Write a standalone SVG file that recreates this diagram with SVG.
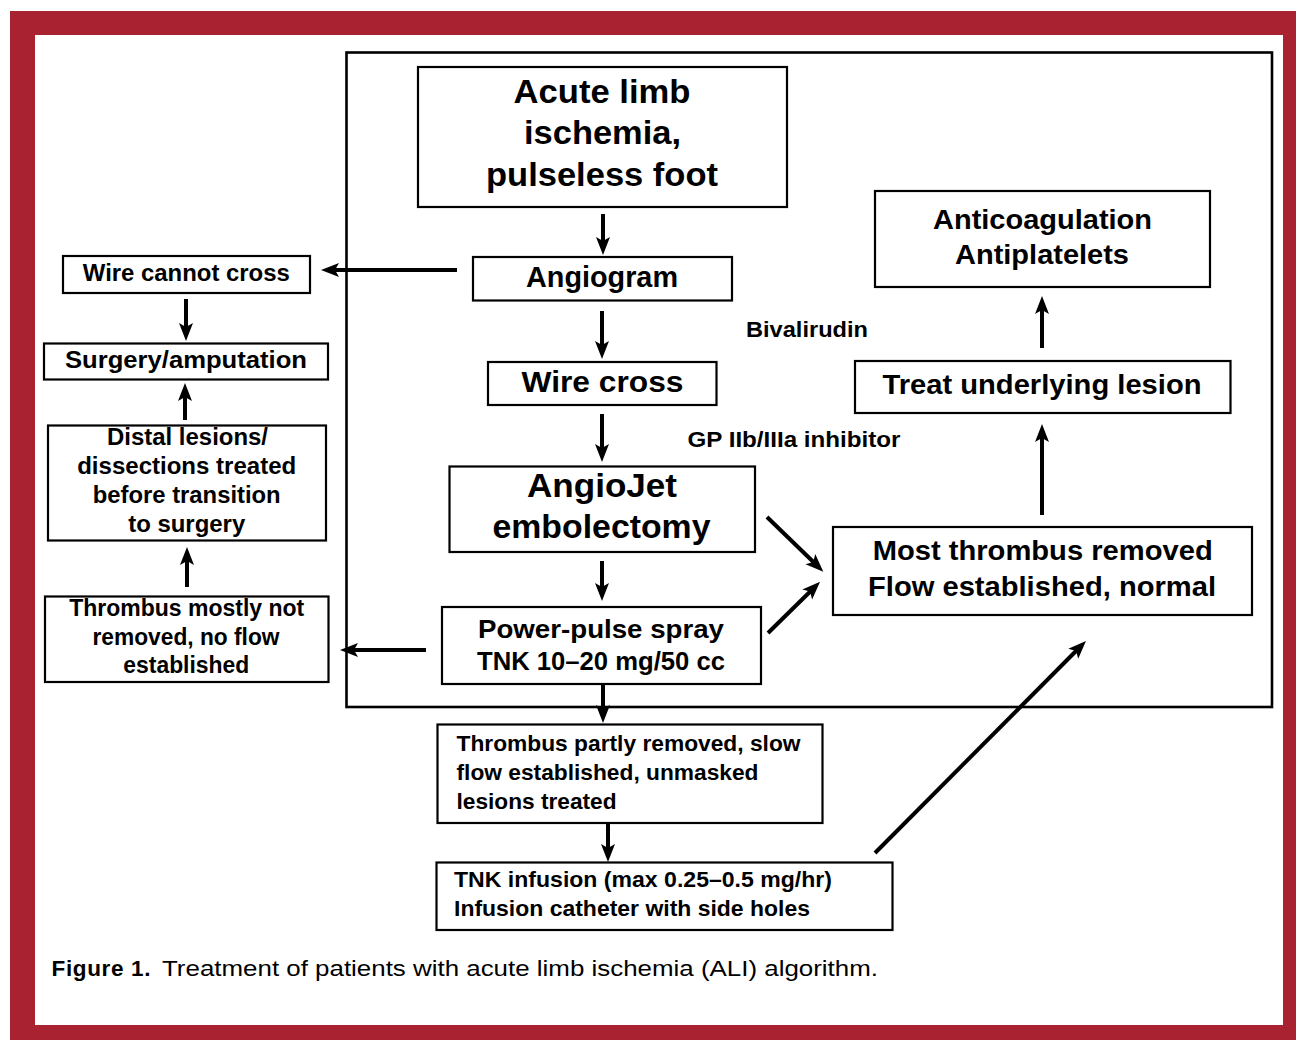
<svg xmlns="http://www.w3.org/2000/svg" width="1296" height="1040" viewBox="0 0 1296 1040">
<defs>
<style>
.box{fill:#fff;stroke:#000;stroke-width:2.2}
.t{font-family:"Liberation Sans",Arial,Helvetica,sans-serif;font-weight:bold;fill:#000}
.c{text-anchor:middle}
.cap{font-family:"Liberation Sans",Arial,Helvetica,sans-serif;font-size:22.5px;fill:#000}
.arr{stroke:#000;stroke-width:4;fill:none;marker-end:url(#ah)}
</style>
<marker id="ah" markerUnits="userSpaceOnUse" markerWidth="20" markerHeight="16" viewBox="0 -8 20 16" refX="6" refY="0" orient="auto">
<path d="M0,-7 L18,0 L0,7 L4,0 z" fill="#000"/>
</marker>
</defs>
<rect x="0" y="0" width="1296" height="1040" fill="#fff"/>
<rect x="10" y="11" width="1286" height="1029" fill="#A82232"/>
<rect x="35" y="35" width="1248" height="990" fill="#fff"/>
<rect x="346.5" y="52.5" width="925.5" height="654.5" fill="none" stroke="#000" stroke-width="2.6"/>

<g id="connectors">
<line class="arr" x1="603" y1="214" x2="603" y2="243"/>
<line class="arr" x1="602" y1="311" x2="602" y2="347"/>
<line class="arr" x1="602" y1="414" x2="602" y2="450"/>
<line class="arr" x1="602" y1="561" x2="602" y2="589"/>
<line class="arr" x1="603" y1="684" x2="603" y2="711"/>
<line class="arr" x1="608" y1="823" x2="608" y2="850"/>
<line class="arr" x1="457" y1="270" x2="333" y2="270"/>
<line class="arr" x1="186" y1="299" x2="186" y2="329"/>
<line class="arr" x1="185" y1="420" x2="185" y2="395"/>
<line class="arr" x1="187" y1="587" x2="187" y2="559"/>
<line class="arr" x1="426" y1="650" x2="352" y2="650"/>
<line class="arr" x1="767" y1="517" x2="814.7" y2="563.3"/>
<line class="arr" x1="768" y1="633" x2="811.5" y2="590.2"/>
<line class="arr" x1="875" y1="853" x2="1077.5" y2="649.5"/>
<line class="arr" x1="1042" y1="515" x2="1042" y2="436"/>
<line class="arr" x1="1042" y1="348" x2="1042" y2="308"/>
</g>

<g id="n-acute">
<rect class="box" x="418" y="67" width="369" height="140"/>
<text class="t c" font-size="32.5" x="602" y="103" textLength="177" lengthAdjust="spacingAndGlyphs">Acute limb</text>
<text class="t c" font-size="32.5" x="602.5" y="144" textLength="157" lengthAdjust="spacingAndGlyphs">ischemia,</text>
<text class="t c" font-size="32.5" x="602" y="186" textLength="232" lengthAdjust="spacingAndGlyphs">pulseless foot</text>
</g>

<g id="n-angiogram">
<rect class="box" x="473" y="257" width="259" height="43.5"/>
<text class="t c" font-size="30" x="602" y="287" textLength="152" lengthAdjust="spacingAndGlyphs">Angiogram</text>
</g>

<g id="n-wirecross">
<rect class="box" x="488" y="362" width="228.5" height="43"/>
<text class="t c" font-size="30" x="602.5" y="392" textLength="162" lengthAdjust="spacingAndGlyphs">Wire cross</text>
</g>

<g id="n-angiojet">
<rect class="box" x="449.5" y="466.5" width="305.5" height="85.5"/>
<text class="t c" font-size="32.5" x="602" y="497" textLength="150" lengthAdjust="spacingAndGlyphs">AngioJet</text>
<text class="t c" font-size="32.5" x="601.5" y="538" textLength="218" lengthAdjust="spacingAndGlyphs">embolectomy</text>
</g>

<g id="n-powerpulse">
<rect class="box" x="442" y="607" width="319" height="77"/>
<text class="t c" font-size="26" x="601" y="637.5" textLength="246" lengthAdjust="spacingAndGlyphs">Power-pulse spray</text>
<text class="t c" font-size="25" x="601" y="670" textLength="248" lengthAdjust="spacingAndGlyphs">TNK 10–20 mg/50 cc</text>
</g>

<g id="n-partly">
<rect class="box" x="437.5" y="724.5" width="385" height="98.5"/>
<text class="t" font-size="22.5" x="456.5" y="751" textLength="344" lengthAdjust="spacingAndGlyphs">Thrombus partly removed, slow</text>
<text class="t" font-size="22.5" x="456.5" y="780" textLength="302" lengthAdjust="spacingAndGlyphs">flow established, unmasked</text>
<text class="t" font-size="22.5" x="456.5" y="808.5" textLength="160" lengthAdjust="spacingAndGlyphs">lesions treated</text>
</g>

<g id="n-tnkinfusion">
<rect class="box" x="436.5" y="862.5" width="456" height="67.5"/>
<text class="t" font-size="22.5" x="454" y="887" textLength="378" lengthAdjust="spacingAndGlyphs">TNK infusion (max 0.25–0.5 mg/hr)</text>
<text class="t" font-size="22.5" x="454" y="916" textLength="356" lengthAdjust="spacingAndGlyphs">Infusion catheter with side holes</text>
</g>

<g id="n-wirecannot">
<rect class="box" x="63" y="256" width="247" height="37"/>
<text class="t c" font-size="23.5" x="186.3" y="281" textLength="207" lengthAdjust="spacingAndGlyphs">Wire cannot cross</text>
</g>

<g id="n-surgery">
<rect class="box" x="44" y="343.5" width="284" height="36"/>
<text class="t c" font-size="24.5" x="186" y="367.5" textLength="242" lengthAdjust="spacingAndGlyphs">Surgery/amputation</text>
</g>

<g id="n-distal">
<rect class="box" x="48" y="425.5" width="278" height="115"/>
<text class="t c" font-size="23.5" x="187.5" y="445" textLength="161" lengthAdjust="spacingAndGlyphs">Distal lesions/</text>
<text class="t c" font-size="23.5" x="186.7" y="474" textLength="219" lengthAdjust="spacingAndGlyphs">dissections treated</text>
<text class="t c" font-size="23.5" x="186.7" y="503" textLength="188" lengthAdjust="spacingAndGlyphs">before transition</text>
<text class="t c" font-size="23.5" x="186.7" y="532" textLength="117" lengthAdjust="spacingAndGlyphs">to surgery</text>
</g>

<g id="n-mostlynot">
<rect class="box" x="45" y="596.5" width="283.5" height="85.5"/>
<text class="t c" font-size="23.5" x="186.7" y="616" textLength="235" lengthAdjust="spacingAndGlyphs">Thrombus mostly not</text>
<text class="t c" font-size="23.5" x="186" y="644.5" textLength="187" lengthAdjust="spacingAndGlyphs">removed, no flow</text>
<text class="t c" font-size="23.5" x="186.3" y="673" textLength="126" lengthAdjust="spacingAndGlyphs">established</text>
</g>

<g id="n-anticoag">
<rect class="box" x="875" y="191" width="335" height="96"/>
<text class="t c" font-size="28.5" x="1042.5" y="229" textLength="219" lengthAdjust="spacingAndGlyphs">Anticoagulation</text>
<text class="t c" font-size="28.5" x="1042" y="263.5" textLength="174" lengthAdjust="spacingAndGlyphs">Antiplatelets</text>
</g>

<g id="n-treat">
<rect class="box" x="855" y="361" width="375.5" height="52"/>
<text class="t c" font-size="28.5" x="1042" y="393.5" textLength="319" lengthAdjust="spacingAndGlyphs">Treat underlying lesion</text>
</g>

<g id="n-most">
<rect class="box" x="833" y="527" width="419" height="88"/>
<text class="t c" font-size="28.5" x="1042.7" y="560" textLength="340" lengthAdjust="spacingAndGlyphs">Most thrombus removed</text>
<text class="t c" font-size="28.5" x="1042" y="596" textLength="348" lengthAdjust="spacingAndGlyphs">Flow established, normal</text>
</g>

<g id="labels">
<text class="t" font-size="22.5" x="746" y="337" textLength="122" lengthAdjust="spacingAndGlyphs">Bivalirudin</text>
<text class="t" font-size="22.5" x="687.5" y="447" textLength="213" lengthAdjust="spacingAndGlyphs">GP IIb/IIIa inhibitor</text>
</g>

<g id="caption">
<text class="cap" font-weight="bold" x="51.5" y="976" textLength="99" lengthAdjust="spacing">Figure 1.</text>
<text class="cap" x="162" y="976" textLength="716" lengthAdjust="spacingAndGlyphs">Treatment of patients with acute limb ischemia (ALI) algorithm.</text>
</g>
</svg>
